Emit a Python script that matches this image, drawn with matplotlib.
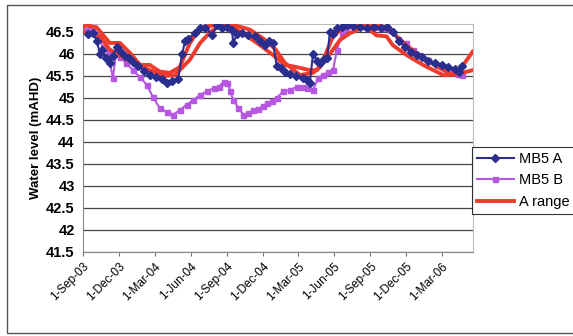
import matplotlib
matplotlib.use('Agg')
import matplotlib.pyplot as plt
import pandas as pd
from matplotlib.patches import Rectangle

plt.rcParams['font.family'] = ['Liberation Sans', 'DejaVu Sans']

# MB5 A bore readings
a_dates = ['2003-09-13', '2003-09-26', '2003-10-06', '2003-10-14', '2003-10-19', '2003-10-29',
           '2003-11-08', '2003-11-16', '2003-11-26', '2003-12-06', '2003-12-17', '2003-12-27',
           '2004-01-06', '2004-01-19', '2004-02-03', '2004-02-18', '2004-03-05', '2004-03-20',
           '2004-04-02', '2004-04-15', '2004-04-30', '2004-05-10', '2004-05-18', '2004-05-25',
           '2004-06-12', '2004-06-25', '2004-07-08', '2004-07-26', '2004-08-07', '2004-08-20',
           '2004-09-02', '2004-09-14', '2004-09-17', '2004-09-27', '2004-10-09', '2004-10-25',
           '2004-11-11', '2004-11-24', '2004-12-07', '2004-12-17', '2004-12-27', '2005-01-06',
           '2005-01-16', '2005-01-26', '2005-02-08', '2005-02-23', '2005-03-14', '2005-03-24',
           '2005-03-31', '2005-04-08', '2005-04-18', '2005-04-26', '2005-05-06', '2005-05-14',
           '2005-05-21', '2005-05-29', '2005-06-08', '2005-06-21', '2005-07-03', '2005-07-18',
           '2005-08-05', '2005-08-23', '2005-09-09', '2005-09-27', '2005-10-12', '2005-10-28',
           '2005-11-12', '2005-11-28', '2005-12-13', '2005-12-29', '2006-01-10', '2006-01-26',
           '2006-02-12', '2006-03-02', '2006-03-17', '2006-04-04', '2006-04-14', '2006-04-22']
a_vals = [46.45, 46.48, 46.3, 46.0, 46.1, 45.9,
          45.8, 45.95, 46.15, 46.05, 45.95, 45.9,
          45.82, 45.72, 45.62, 45.52, 45.47, 45.42,
          45.35, 45.38, 45.42, 46.0, 46.3, 46.35,
          46.47, 46.6, 46.6, 46.43, 46.65, 46.6,
          46.62, 46.55, 46.25, 46.45, 46.47, 46.42,
          46.4, 46.3, 46.2, 46.3, 46.25, 45.72,
          45.68, 45.6, 45.55, 45.5, 45.45, 45.4,
          45.35, 46.0, 45.85, 45.8, 45.88, 45.9,
          46.5, 46.45, 46.6, 46.62, 46.65, 46.63,
          46.62, 46.6, 46.62, 46.6, 46.62, 46.5,
          46.3, 46.15, 46.05, 45.97, 45.93, 45.85,
          45.8, 45.75, 45.7, 45.65, 45.6, 45.72]

# MB5 B bore readings
b_dates = ['2003-09-06', '2003-09-19', '2003-09-26', '2003-10-09', '2003-10-22', '2003-11-03',
           '2003-11-16', '2003-11-24', '2003-12-04', '2003-12-19', '2004-01-06', '2004-01-24',
           '2004-02-10', '2004-02-26', '2004-03-14', '2004-04-02', '2004-04-17', '2004-05-04',
           '2004-05-22', '2004-06-07', '2004-06-25', '2004-07-12', '2004-07-29', '2004-08-11',
           '2004-08-24', '2004-09-02', '2004-09-10', '2004-09-17', '2004-09-30', '2004-10-13',
           '2004-10-25', '2004-11-07', '2004-11-20', '2004-12-03', '2004-12-12', '2004-12-25',
           '2005-01-06', '2005-01-22', '2005-02-08', '2005-02-26', '2005-03-14', '2005-03-24',
           '2005-04-08', '2005-04-21', '2005-05-04', '2005-05-16', '2005-05-29', '2005-06-08',
           '2005-06-21', '2005-07-01', '2005-07-11', '2005-07-31', '2005-08-20', '2005-09-09',
           '2005-10-02', '2005-10-20', '2005-11-09', '2005-12-01', '2005-12-19', '2006-01-03',
           '2006-01-26', '2006-02-17', '2006-03-09', '2006-03-29', '2006-04-11', '2006-04-22']
b_vals = [46.55, 46.6, 46.66, 46.4, 46.16, 46.05,
          45.45, 46.0, 45.93, 45.8, 45.63, 45.47,
          45.3, 45.02, 44.77, 44.68, 44.62, 44.72,
          44.85, 44.95, 45.07, 45.15, 45.22, 45.25,
          45.37, 45.35, 45.15, 44.95, 44.78, 44.62,
          44.65, 44.73, 44.75, 44.82, 44.88, 44.92,
          45.0, 45.15, 45.18, 45.25, 45.25, 45.22,
          45.18, 45.45, 45.52, 45.58, 45.63, 46.1,
          46.47, 46.6, 46.65, 46.66, 46.65, 46.62,
          46.6, 46.55, 46.35, 46.25, 46.08, 45.98,
          45.87, 45.75, 45.67, 45.6, 45.55, 45.52]

# A range (two bounding curves)
r1_dates = ['2003-09-01', '2003-09-11', '2003-10-06', '2003-11-08', '2003-12-04', '2004-01-01',
            '2004-01-24', '2004-02-18', '2004-03-14', '2004-04-09', '2004-05-04', '2004-05-30',
            '2004-06-25', '2004-07-29', '2004-09-10', '2004-10-23', '2004-11-24', '2005-01-03',
            '2005-01-26', '2005-02-26', '2005-03-31', '2005-04-18', '2005-05-04', '2005-05-29',
            '2005-06-24', '2005-08-05', '2005-09-26', '2005-10-20', '2005-12-01', '2006-01-13',
            '2006-02-24', '2006-03-29', '2006-05-19']
r1_vals = [46.62, 46.65, 46.6, 46.25, 46.25, 46.0,
           45.75, 45.75, 45.6, 45.57, 45.7, 46.25,
           46.6, 46.65, 46.65, 46.4, 46.2, 45.93,
           45.75, 45.7, 45.63, 45.63, 45.87, 46.4,
           46.6, 46.65, 46.65, 46.55, 46.2, 45.9,
           45.68, 45.52, 45.63]

r2_dates = ['2003-09-01', '2003-10-14', '2003-11-08', '2004-01-01', '2004-02-18', '2004-03-28',
            '2004-04-22', '2004-05-30', '2004-06-25', '2004-07-21', '2004-08-15', '2004-09-22',
            '2004-10-30', '2004-12-07', '2005-01-03', '2005-01-26', '2005-03-06', '2005-04-08',
            '2005-04-26', '2005-05-21', '2005-06-16', '2005-07-11', '2005-08-05', '2005-08-23',
            '2005-09-17', '2005-10-12', '2005-10-28', '2005-12-01', '2006-01-13', '2006-03-05',
            '2006-03-22', '2006-04-16', '2006-05-19']
r2_vals = [46.5, 46.4, 46.1, 45.82, 45.63, 45.5,
           45.52, 45.87, 46.25, 46.5, 46.65, 46.65,
           46.55, 46.32, 46.1, 45.8, 45.52, 45.57,
           45.7, 46.0, 46.32, 46.47, 46.57, 46.6,
           46.42, 46.4, 46.2, 45.98, 45.75, 45.52,
           45.52, 45.63, 46.05]

ticks = ['2003-09-01', '2003-12-01', '2004-03-01', '2004-06-01', '2004-09-01', '2004-12-01',
         '2005-03-01', '2005-06-01', '2005-09-01', '2005-12-01', '2006-03-01']

fig = plt.figure(figsize=(5.73, 3.36), dpi=100)
fig.patches.append(Rectangle((7 / 573, 3 / 336), 570 / 573, 328 / 336, transform=fig.transFigure,
                             fill=False, edgecolor='#555555', lw=1.0))
ax = fig.add_axes([83 / 573, 1 - 252 / 336, 390 / 573, 228 / 336])

ax.plot(pd.to_datetime(r1_dates), r1_vals, color='#ee3b2b', lw=2.8, label='A range', zorder=3)
ax.plot(pd.to_datetime(r2_dates), r2_vals, color='#ee3b2b', lw=2.8, zorder=3)
ax.plot(pd.to_datetime(a_dates), a_vals, color='#2a2f8f', lw=1.5, marker='D', ms=3.6,
        label='MB5 A', zorder=4)
ax.plot(pd.to_datetime(b_dates), b_vals, color='#b557e0', lw=1.5, marker='s', ms=3.6,
        label='MB5 B', zorder=2)

ax.set_ylim(41.5, 46.68)
ax.set_xlim(pd.Timestamp('2003-09-01'), pd.Timestamp('2006-05-20'))
ax.set_yticks([41.5 + 0.5 * i for i in range(11)])
ax.set_yticklabels(['%g' % (41.5 + 0.5 * i) for i in range(11)], fontweight='bold', fontsize=10.5)
ax.yaxis.grid(True, color='#444444', lw=0.9)
ax.set_axisbelow(True)
ax.tick_params(axis='y', length=0, pad=6)

tk = pd.to_datetime(ticks)
ax.set_xticks(tk)
ax.set_xticklabels([t.strftime('1-%b-%y') for t in tk], rotation=45, ha='right',
                   rotation_mode='anchor', fontsize=8.5)
ax.tick_params(axis='x', length=3, color='#777777', direction='out', pad=3)

for s in ['top', 'right']:
    ax.spines[s].set_color('#bbbbbb')
for s in ['left', 'bottom']:
    ax.spines[s].set_color('#888888')

ax.set_ylabel('Water level (mAHD)', fontweight='bold', fontsize=9.5, labelpad=3)

h, l = ax.get_legend_handles_labels()
order = [1, 2, 0]
leg = fig.legend([h[i] for i in order], [l[i] for i in order], loc='upper left',
                 bbox_to_anchor=(472 / 573, 1 - 147 / 336), fontsize=10.5, frameon=True,
                 fancybox=False, edgecolor='black', handlelength=2.5, borderpad=0.35,
                 labelspacing=0.5, handletextpad=0.35, borderaxespad=0)
leg.get_frame().set_linewidth(0.8)

fig.savefig('out.png', dpi=100)
